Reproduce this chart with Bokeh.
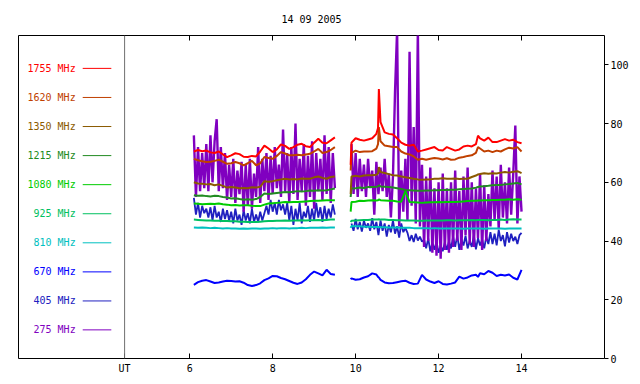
from bokeh.plotting import figure
from bokeh.models import Range1d, LinearAxis, FixedTicker, Span
from bokeh.embed import file_html
from bokeh.resources import INLINE
from bokeh.core.properties import value

TITLE = "14 09 2005"
FREQS = ["1755 MHz", "1620 MHz", "1350 MHz", "1215 MHz", "1080 MHz",
         "925 MHz", "810 MHz", "670 MHz", "405 MHz", "275 MHz"]
COLORS = ["#ff0000", "#c04000", "#8b5a00", "#228b22", "#00cc00",
          "#00c060", "#00c0c0", "#0000ff", "#2020c0", "#8000c0"]
X_TICKS = [6, 8, 10, 12, 14]
Y_TICKS = [0, 20, 40, 60, 80, 100]
UT_POS = 4.43
UT_LABEL = "UT"

# time grids (UT hours)
T1 = [6.1, 6.2, 6.3, 6.4, 6.5, 6.6, 6.7, 6.8, 6.9, 7.0, 7.1, 7.2, 7.3, 7.4, 7.5,
      7.6, 7.7, 7.8, 7.9, 8.0, 8.1, 8.2, 8.3, 8.4, 8.5, 8.6, 8.7, 8.8, 8.9, 9.0,
      9.1, 9.2, 9.3, 9.4, 9.5]
T2 = [9.88, 9.9, 10.0, 10.1, 10.2, 10.3, 10.4, 10.5, 10.54, 10.56, 10.6, 10.7,
      10.8, 10.9, 11.0, 11.1, 11.2, 11.3, 11.4, 11.5, 11.6, 11.7, 11.8, 11.9,
      12.0, 12.1, 12.2, 12.3, 12.4, 12.5, 12.6, 12.7, 12.8, 12.9, 12.95, 13.0,
      13.1, 13.2, 13.3, 13.4, 13.5, 13.6, 13.7, 13.8, 13.9, 14.0]
T1N = [round(6.10 + 0.05 * i, 2) for i in range(69)]
T2N = [round(9.90 + 0.05 * i, 2) for i in range(83)]

F1755_S1 = [70.5, 71.0, 70.6, 70.8, 70.2, 70.0, 70.5, 69.5, 68.6, 69.2, 69.9, 69.6,
            68.7, 68.6, 69.0, 68.8, 70.5, 72.5, 71.5, 70.3, 71.2, 72.9, 72.4, 71.4,
            72.0, 72.8, 73.1, 72.3, 72.0, 73.5, 74.8, 73.5, 73.3, 74.3, 75.3]
F1755_S2 = [66.0, 73.5, 75.0, 74.5, 74.2, 74.6, 75.0, 76.5, 78.5, 91.8, 80.5, 77.0,
            76.5, 76.3, 75.0, 73.5, 72.8, 72.5, 72.8, 70.5, 70.8, 71.2, 71.6, 72.0,
            71.0, 70.8, 72.0, 71.4, 70.8, 71.2, 72.2, 72.5, 72.2, 73.0, 75.9, 75.0,
            74.2, 75.2, 73.7, 73.7, 74.2, 74.7, 74.2, 74.5, 73.7, 73.3]

F1620_S1 = [68.0, 67.5, 67.2, 66.9, 67.0, 67.3, 67.7, 67.0, 66.3, 66.5, 66.9, 66.5,
            65.8, 66.5, 67.3, 65.8, 66.5, 68.6, 68.3, 68.0, 69.0, 70.3, 69.8, 69.2,
            69.2, 69.4, 69.2, 69.5, 69.7, 70.5, 71.4, 70.0, 70.3, 71.0, 72.0]
F1620_S2 = [64.0, 70.0, 70.8, 70.3, 70.5, 70.5, 70.6, 71.5, 73.0, 78.8, 74.0, 72.5,
            72.3, 72.0, 72.0, 70.5, 69.8, 69.5, 68.8, 67.7, 68.0, 67.7, 68.0, 68.3,
            68.1, 67.8, 68.2, 67.7, 67.8, 68.4, 68.6, 69.0, 69.2, 70.0, 72.0, 71.5,
            70.5, 70.8, 70.3, 70.8, 70.5, 71.2, 71.8, 71.5, 72.0, 70.5]

F1350_S1 = [60.0, 59.6, 59.5, 59.3, 59.4, 59.0, 59.3, 58.8, 58.2, 58.4, 58.2, 58.0,
            58.1, 58.0, 58.3, 58.2, 58.5, 60.4, 60.2, 60.4, 60.7, 61.0, 61.2, 61.0,
            61.1, 61.0, 61.3, 61.2, 61.2, 61.7, 62.0, 61.5, 61.2, 61.8, 62.0]
F1350_S2 = [56.0, 62.0, 62.2, 62.0, 62.3, 62.4, 62.4, 62.6, 63.0, 65.2, 63.5, 63.2,
            62.8, 62.4, 62.3, 62.0, 61.7, 61.5, 61.2, 61.0, 60.9, 61.0, 61.0, 61.2,
            61.2, 61.4, 61.2, 61.2, 61.3, 61.1, 61.2, 61.2, 61.8, 62.3, 62.7, 62.8,
            63.1, 62.9, 63.1, 63.0, 63.3, 63.5, 63.3, 63.6, 63.8, 63.1]

F1215_S1 = [55.6, 55.4, 55.5, 55.3, 55.2, 55.4, 55.3, 55.0, 54.8, 54.5, 54.6, 54.3,
            54.1, 54.2, 54.1, 54.3, 55.0, 56.2, 56.0, 56.2, 56.4, 56.5, 56.7, 56.6,
            56.8, 57.0, 56.9, 57.0, 57.2, 57.1, 57.3, 57.2, 57.3, 57.6, 57.9]
F1215_S2 = [55.0, 57.9, 58.0, 58.2, 58.1, 58.4, 58.4, 58.5, 58.6, 59.0, 58.6, 58.5,
            58.4, 58.2, 58.0, 57.7, 57.4, 57.3, 57.2, 57.1, 57.1, 57.2, 57.2, 57.3,
            57.3, 57.4, 57.4, 57.5, 57.5, 57.6, 57.7, 57.8, 57.9, 58.2, 58.4, 58.6,
            58.7, 58.8, 59.0, 59.1, 59.1, 59.3, 59.4, 59.6, 59.8, 59.3]

F1080_S1 = [52.8, 52.7, 52.5, 52.6, 52.7, 52.6, 52.8, 52.5, 52.4, 52.2, 52.3, 52.1,
            52.2, 52.2, 52.0, 51.9, 51.9, 52.4, 52.8, 52.9, 53.0, 53.1, 53.3, 53.2,
            53.3, 53.3, 53.4, 53.5, 53.6, 53.7, 53.7, 53.8, 53.9, 53.9, 53.9]
F1080_S2 = [50.0, 53.3, 53.4, 53.7, 53.6, 53.8, 53.9, 53.8, 53.9, 54.2, 53.9, 53.8,
            53.7, 53.7, 53.5, 53.4, 57.0, 53.3, 53.2, 53.1, 53.0, 53.1, 53.2, 53.2,
            53.3, 53.2, 53.3, 53.3, 53.3, 53.4, 53.5, 53.6, 53.7, 53.7, 53.8, 53.8,
            53.9, 53.9, 54.0, 54.0, 54.1, 54.1, 54.2, 54.1, 54.2, 54.1]

F925_S1 = [47.3, 47.2, 47.1, 47.0, 47.0, 46.9, 46.9, 46.8, 46.8, 46.7, 46.7, 46.6,
           46.6, 46.5, 46.5, 46.5, 46.6, 46.7, 46.8, 46.8, 46.9, 46.9, 47.0, 46.9,
           47.0, 47.0, 47.1, 47.0, 47.1, 47.1, 47.2, 47.1, 47.2, 47.3, 47.3]
F925_S2 = [46.5, 46.9, 47.0, 47.1, 47.2, 47.2, 47.3, 47.3, 47.3, 47.4, 47.3, 47.3,
           47.2, 47.2, 47.1, 47.1, 47.0, 47.0, 47.0, 46.9, 46.9, 47.0, 47.0, 47.0,
           47.0, 47.0, 47.1, 47.1, 47.0, 47.1, 47.1, 47.1, 47.2, 47.1, 47.2, 47.2,
           47.2, 47.1, 47.2, 47.2, 47.3, 47.2, 47.3, 47.4, 47.3, 47.3]

F810_S1 = [44.6, 44.5, 44.6, 44.5, 44.4, 44.5, 44.4, 44.3, 44.4, 44.3, 44.3, 44.2,
           44.3, 44.2, 44.3, 44.3, 44.2, 44.3, 44.3, 44.4, 44.3, 44.4, 44.4, 44.3,
           44.4, 44.4, 44.5, 44.4, 44.5, 44.5, 44.5, 44.6, 44.5, 44.6, 44.6]
F810_S2 = [44.5, 45.1, 45.0, 45.0, 44.9, 44.9, 44.8, 44.8, 44.8, 44.8, 44.7, 44.7,
           44.6, 44.6, 44.6, 44.5, 44.5, 44.5, 44.4, 44.4, 44.4, 44.4, 44.3, 44.4,
           44.3, 44.3, 44.3, 44.3, 44.3, 44.3, 44.2, 44.3, 44.3, 44.3, 44.3, 44.3,
           44.2, 44.3, 44.3, 44.3, 44.3, 44.2, 44.3, 44.3, 44.3, 44.3]

F670_S1 = [25.1, 26.0, 26.5, 26.7, 26.2, 25.7, 25.9, 26.2, 26.5, 26.4, 26.2, 26.3,
           25.8, 25.0, 24.7, 25.0, 25.6, 26.7, 27.3, 28.1, 28.0, 27.4, 27.0, 26.4,
           25.8, 25.4, 25.9, 27.0, 28.5, 29.6, 29.0, 28.3, 30.2, 28.8, 28.5]
F670_S2 = [27.0, 27.3, 26.8, 27.0, 27.6, 28.0, 29.0, 28.6, 27.8, 27.6, 26.8, 25.9,
           25.6, 25.7, 26.0, 26.3, 26.5, 25.8, 25.4, 25.5, 28.5, 26.9, 26.2, 25.7,
           26.3, 25.4, 25.2, 25.5, 25.9, 27.9, 27.2, 27.6, 28.3, 28.5, 27.8, 29.0,
           28.7, 29.8, 29.2, 28.1, 28.5, 28.3, 28.6, 27.5, 26.9, 30.2]

F405_S1 = [54.7, 49.0, 53.0, 48.0, 52.0, 49.5, 51.0, 48.0,
           51.5, 47.0, 52.0, 48.0, 50.0, 46.5, 51.0, 47.5, 50.5, 47.0,
           50.0, 46.0, 51.0, 47.0, 49.0, 45.5, 50.5, 47.0, 49.5, 46.0, 51.0, 46.5,
           49.0, 46.5, 50.0, 47.0, 49.5,
           52.0, 49.0, 54.0, 50.0, 53.0, 49.0, 54.0, 50.5, 52.5, 49.0, 53.0,
           47.0, 52.0, 45.5, 51.0, 47.0, 53.0, 46.0, 50.0,
           48.0, 52.0, 46.5, 51.0, 47.0, 53.0, 48.0, 51.5, 46.5, 52.0, 47.5, 51.0,
           48.0, 52.5, 49.0]
F405_S2 = [46.0, 43.5, 47.5, 44.0, 46.5, 43.2, 47.0, 44.5, 46.0, 43.5, 47.8,
           44.0, 46.5, 42.0, 47.0, 43.5, 46.0, 41.5, 45.5, 43.0, 47.0, 42.5, 45.0,
           41.2, 46.0, 43.0, 44.5,
           42.8, 40.0, 42.0, 39.7, 42.5, 40.2, 41.5, 39.8,
           40.5, 37.5, 41.0, 36.5, 39.5, 37.0, 40.0, 36.0, 38.5, 36.5, 39.5, 37.0, 40.0,
           37.5, 41.5, 38.0, 42.0, 37.0, 40.5, 38.5, 41.8, 37.5, 40.0, 38.0, 42.0,
           37.2, 41.0, 38.5, 40.5, 37.5, 41.5, 39.0,
           43.0, 39.0, 42.5, 38.5, 43.8, 40.0, 42.0, 38.2, 43.0, 39.5, 42.5, 40.0,
           41.5, 39.0, 42.0, 42.8]

F275_S1 = [76, 55, 72, 57, 70, 58,
           73, 57, 76, 60, 74,
           81.5,
           57, 72, 58, 70,
           54, 66, 55, 68, 53, 64, 56, 67,
           50, 66, 52, 68, 51, 63,
           55, 72, 53, 68, 57, 70,
           54, 69, 56, 72, 58, 66, 55, 78, 57, 70,
           53, 72, 56, 80, 54, 68, 57, 73, 52, 69,
           55, 74, 51, 70, 57, 68, 54, 76, 56, 72, 53, 70, 58]
F275_S2 = [73, 56, 70, 55, 68,
           57, 66, 55, 68, 58, 64, 49, 67, 56, 65, 57, 68, 55, 63,
           48, 62, 91, 112,
           45, 64, 50, 68, 47,
           104.5, 52, 78.8, 46, 112, 45, 66,
           38, 62, 40, 65, 36, 58, 35, 60, 34, 63, 37, 58, 36,
           60, 38, 64, 40, 57, 37, 62, 42, 65, 39, 60, 38, 58, 41, 63, 37, 59, 40, 56,
           45, 64, 47, 62, 44, 66, 48, 60, 46, 65, 49, 63,
           79.3, 46, 62, 50]

SERIES = [  # label index, seg1 (t, v), seg2 (t, v), width
    (8, T1N, F405_S1, T2N, F405_S2, 1.8),
    (9, T1N, F275_S1, T2N, F275_S2, 2.4),
    (7, T1, F670_S1, T2, F670_S2, 2),
    (6, T1, F810_S1, T2, F810_S2, 2),
    (5, T1, F925_S1, T2, F925_S2, 2),
    (4, T1, F1080_S1, T2, F1080_S2, 2),
    (3, T1, F1215_S1, T2, F1215_S2, 2),
    (2, T1, F1350_S1, T2, F1350_S2, 2),
    (1, T1, F1620_S1, T2, F1620_S2, 2),
    (0, T1, F1755_S1, T2, F1755_S2, 2),
]

LEG_Y = [98.8, 88.9, 79.0, 69.1, 59.2, 49.3, 39.4, 29.5, 19.6, 9.75]
LEG_TEXT_X = 3.25
LEG_LINE_X0 = 3.42
LEG_LINE_X1 = 4.11

FONT = "DejaVu Sans Mono"

p = figure(width=632, height=376, x_range=Range1d(1.872, 16.0), y_range=Range1d(0, 110),
           output_backend="svg", toolbar_location=None, y_axis_location="right",
           min_border_left=18, min_border_right=28, min_border_top=35, min_border_bottom=17)
p.background_fill_color = "white"
p.border_fill_color = "white"
p.outline_line_color = "black"
p.outline_line_width = 1
p.grid.visible = False

p.title.text = TITLE
p.title.align = "center"
p.title.text_font = FONT
p.title.text_font_size = "10px"
p.title.text_font_style = "normal"
p.title.text_color = "black"
p.title.standoff = 22

xa = p.xaxis[0]
xa.ticker = FixedTicker(ticks=[UT_POS] + X_TICKS)
xa.major_label_overrides = {UT_POS: UT_LABEL}
xa.major_tick_in = 5
xa.major_tick_out = 0
xa.minor_tick_line_color = None
xa.axis_line_color = None
xa.major_label_standoff = 4
xa.major_label_text_font = FONT
xa.major_label_text_font_size = "10px"
xa.major_label_text_color = "black"

top = LinearAxis(ticker=FixedTicker(ticks=X_TICKS), major_tick_in=5, major_tick_out=0,
                 minor_tick_line_color=None, axis_line_color=None,
                 major_label_text_color=None, major_label_text_font_size="1px",
                 major_label_standoff=0)
p.add_layout(top, "above")

ya = p.yaxis[0]
ya.ticker = FixedTicker(ticks=Y_TICKS)
ya.major_tick_in = 0
ya.major_tick_out = 4
ya.minor_tick_line_color = None
ya.axis_line_color = None
ya.major_label_standoff = 2
ya.major_label_text_font = FONT
ya.major_label_text_font_size = "10px"
ya.major_label_text_color = "black"

p.add_layout(Span(location=UT_POS, dimension="height", line_color="#707070", line_width=1))

for idx, ta, va, tb, vb, w in SERIES:
    p.line(ta, va, line_color=COLORS[idx], line_width=w)
    p.line(tb, vb, line_color=COLORS[idx], line_width=w)

p.segment(x0=[LEG_LINE_X0] * len(LEG_Y), y0=LEG_Y, x1=[LEG_LINE_X1] * len(LEG_Y), y1=LEG_Y,
          line_color=COLORS, line_width=1)
p.text(x=[LEG_TEXT_X] * len(LEG_Y), y=LEG_Y, text=FREQS, text_color=COLORS,
       text_align="right", text_baseline="middle", text_font=value(FONT), text_font_size="10px")

open("out.html", "w").write(file_html(p, INLINE))
